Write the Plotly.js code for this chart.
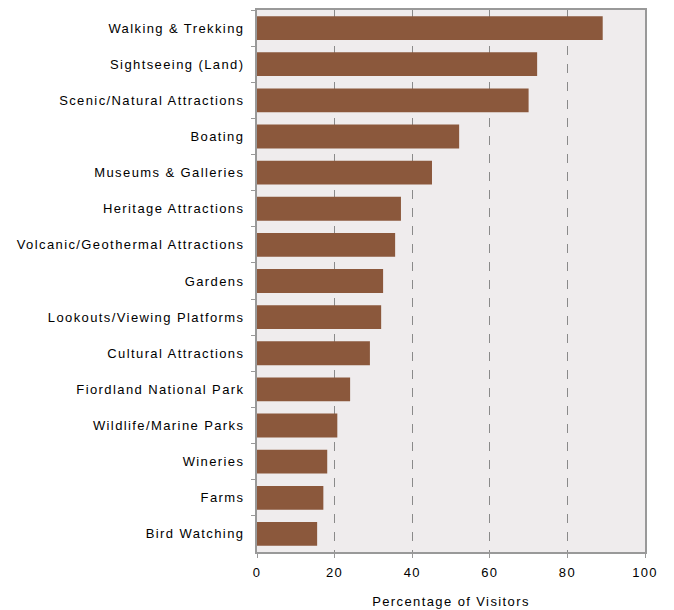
<!DOCTYPE html>
<html>
<head>
<meta charset="utf-8">
<script src="https://cdn.plot.ly/plotly-3.0.1.min.js"></script>
<style>
html,body{margin:0;padding:0;background:#fff;}
#chart{width:674px;height:610px;}
#chart .ytick text{letter-spacing:1.4px;}
#chart .xtick text{letter-spacing:1.3px;}
#chart .xtitle{letter-spacing:1.4px;}
</style>
</head>
<body>
<div id="chart"></div>
<script>
const categories = [
  "Walking & Trekking",
  "Sightseeing (Land)",
  "Scenic/Natural Attractions",
  "Boating",
  "Museums & Galleries",
  "Heritage Attractions",
  "Volcanic/Geothermal Attractions",
  "Gardens",
  "Lookouts/Viewing Platforms",
  "Cultural Attractions",
  "Fiordland National Park",
  "Wildlife/Marine Parks",
  "Wineries",
  "Farms",
  "Bird Watching"
];
const values = [89.1, 72.2, 70.0, 52.1, 45.1, 37.1, 35.6, 32.5, 32.0, 29.1, 24.0, 20.7, 18.1, 17.1, 15.5];
const xTicks = [0, 20, 40, 60, 80, 100];

const data = [{
  type: "bar",
  orientation: "h",
  y: categories,
  x: values,
  marker: {color: "#8B583C", line: {width: 0}},
  hoverinfo: "none"
}];

const layout = {
  width: 674,
  height: 610,
  margin: {l: 257, r: 29, t: 10, b: 58},
  paper_bgcolor: "#ffffff",
  plot_bgcolor: "#EFECED",
  bargap: 0.34,
  showlegend: false,
  font: {family: "Liberation Sans, Arial, sans-serif", size: 13, color: "#000"},
  xaxis: {
    range: [0, 100],
    tickvals: xTicks,
    ticktext: xTicks.map(String),
    showgrid: true,
    gridcolor: "#8a8a8a",
    griddash: "dash",
    gridwidth: 1,
    zeroline: false,
    showline: true,
    linecolor: "#999999",
    linewidth: 2,
    mirror: true,
    ticks: "outside",
    ticklen: 4,
    tickcolor: "#999999",
    ticklabelstandoff: 3,
    tickfont: {size: 13},
    title: {text: "Percentage of Visitors", font: {size: 13}, standoff: 18},
    fixedrange: true
  },
  yaxis: {
    type: "category",
    autorange: "reversed",
    showgrid: false,
    zeroline: false,
    showline: true,
    linecolor: "#999999",
    linewidth: 2,
    mirror: true,
    ticks: "outside",
    tickson: "boundaries",
    ticklen: 4,
    tickcolor: "#999999",
    ticklabelstandoff: 8,
    tickfont: {size: 13},
    fixedrange: true
  }
};

Plotly.newPlot("chart", data, layout, {displayModeBar: false, staticPlot: true});
</script>
</body>
</html>
